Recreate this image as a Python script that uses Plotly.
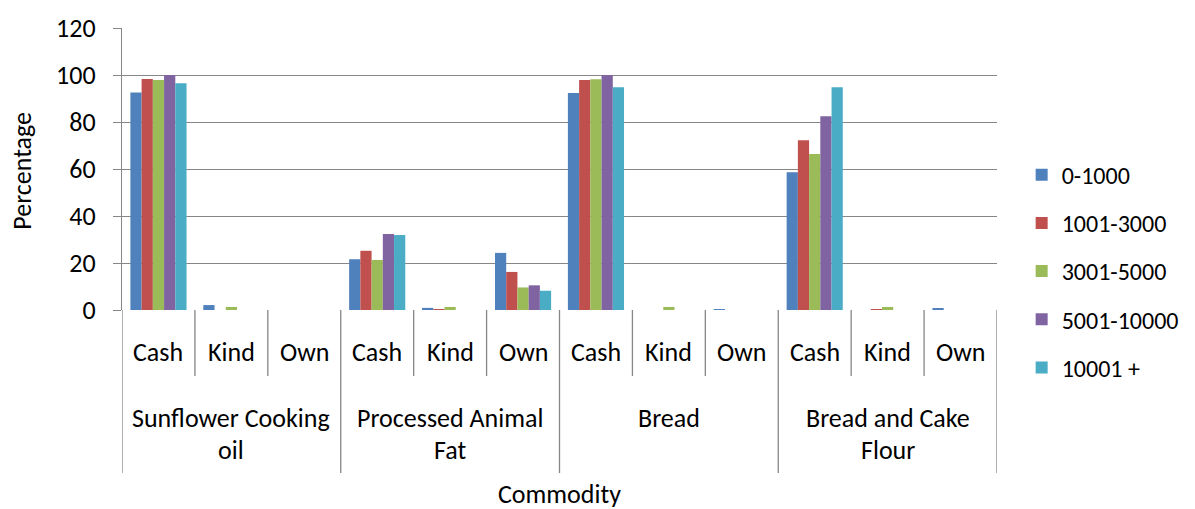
import plotly.graph_objects as go

commodities = ["Sunflower Cooking<br>oil", "Processed Animal<br>Fat", "Bread", "Bread and Cake<br>Flour"]
methods = ["Cash", "Kind", "Own"]
series_names = ["0-1000", "1001-3000", "3001-5000", "5001-10000", "10001 +"]
colors = ["#4F81BD", "#C0504D", "#9BBB59", "#8064A2", "#4BACC6"]

# values per series across the 12 commodity/method categories
v_0_1000 = [92.6, 2.1, 0.0, 21.6, 0.9, 24.3, 92.3, 0.0, 0.4, 58.6, 0.0, 0.7]
v_1001_3000 = [98.3, 0.0, 0.0, 25.2, 0.3, 16.2, 97.9, 0.0, 0.0, 72.2, 0.3, 0.0]
v_3001_5000 = [97.9, 1.3, 0.0, 21.3, 1.3, 9.6, 98.2, 1.3, 0.0, 66.4, 1.3, 0.0]
v_5001_10000 = [100.0, 0.0, 0.0, 32.3, 0.0, 10.5, 100.0, 0.0, 0.0, 82.4, 0.0, 0.0]
v_10001_plus = [96.5, 0.0, 0.0, 31.9, 0.0, 8.2, 94.8, 0.0, 0.0, 94.8, 0.0, 0.0]
series_values = [v_0_1000, v_1001_3000, v_3001_5000, v_5001_10000, v_10001_plus]

y_ticks = [0, 20, 40, 60, 80, 100, 120]

FONT = "Calibri, Carlito, Lato, sans-serif"
FS = 26
GRID = "#868686"

cats = [f"{c}|{m}" for c in commodities for m in methods]

fig = go.Figure()
for name, col, vals in zip(series_names, colors, series_values):
    fig.add_trace(go.Bar(x=cats, y=vals, name=name, marker_color=col,
                         marker_line_width=0, legendgroup=name))

shapes = []
annotations = []
n = len(cats)
# dividers below the axis
for i in range(n + 1):
    if i % len(methods) == 0:
        y1 = -0.578
    else:
        y1 = -0.234
    shapes.append(dict(type="line", xref="x", yref="paper", x0=i - 0.5, x1=i - 0.5,
                       y0=0, y1=y1, line=dict(color=GRID, width=1.3)))
# method labels
for i, c in enumerate(cats):
    annotations.append(dict(x=i, y=-0.149, xref="x", yref="paper", text=methods[i % 3],
                            showarrow=False, font=dict(family=FONT, size=FS, color="black"),
                            xanchor="center", yanchor="middle"))
# commodity labels
for j, c in enumerate(commodities):
    lines = c.split("<br>")
    ys = [-0.383, -0.497] if len(lines) == 2 else [-0.383]
    for line, yy in zip(lines, ys):
        annotations.append(dict(x=j * 3 + 1, y=yy, xref="x", yref="paper", text=line,
                                showarrow=False, font=dict(family=FONT, size=FS, color="black"),
                                xanchor="center", yanchor="middle"))
annotations.append(dict(x=0.5, y=-0.652, xref="paper", yref="paper", text="Commodity",
                        showarrow=False, font=dict(family=FONT, size=FS, color="black"),
                        xanchor="center", yanchor="middle"))
annotations.append(dict(x=-0.114, y=0.495, xref="paper", yref="paper", text="Percentage",
                        textangle=-90, showarrow=False,
                        font=dict(family=FONT, size=FS, color="black"),
                        xanchor="center", yanchor="middle"))

fig.update_layout(
    width=1195, height=509,
    margin=dict(l=122, r=197, t=28, b=199),
    paper_bgcolor="white", plot_bgcolor="white",
    barmode="group", bargap=0.23, bargroupgap=0,
    font=dict(family=FONT, size=FS, color="black"),
    showlegend=True,
    legend=dict(x=1.027, xanchor="left", y=0.138, yanchor="middle",
                tracegroupgap=14, font=dict(family=FONT, size=24, color="black"),
                bgcolor="rgba(0,0,0,0)", borderwidth=0),
    xaxis=dict(type="category", showticklabels=False, showgrid=False, ticks="",
               showline=False, zeroline=False, range=[-0.5, n - 0.5]),
    yaxis=dict(range=[0, 120], tickvals=y_ticks, showgrid=True, gridcolor=GRID, gridwidth=1.3,
               showline=True, linecolor=GRID, linewidth=1.3, ticks="outside", ticklen=8,
               tickcolor=GRID, tickwidth=1.3, zeroline=False, ticklabelstandoff=12,
               tickfont=dict(family=FONT, size=FS, color="black")),
    shapes=shapes, annotations=annotations,
)

fig.write_html("out.html", config={"displayModeBar": False},
               post_script="document.body.style.margin='0';")
